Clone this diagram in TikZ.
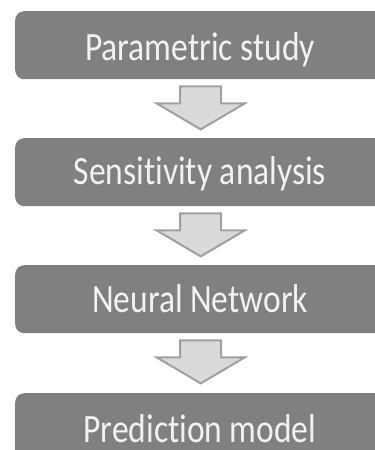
\documentclass[tikz,border=0pt]{standalone}
\usepackage{fontspec}
\usepackage{graphicx}
\setmainfont[Ligatures={NoCommon}]{Carlito}
\usetikzlibrary{calc}
\definecolor{boxgray}{RGB}{128,128,128}
\definecolor{txtwhite}{RGB}{242,242,242}
\definecolor{arrfill}{RGB}{217,217,217}
\definecolor{arredge}{RGB}{160,160,160}
\begin{document}
\begin{tikzpicture}[x=1pt,y=-1pt,
  stage/.style={fill=boxgray, rounded corners=9pt, draw=none, minimum width=371pt,
    minimum height=68pt, anchor=north west, inner sep=0pt},
  lbl/.style={text=txtwhite, font=\fontsize{33.5}{36}\selectfont, anchor=base, inner sep=0pt},
  blockarrow/.style={fill=arrfill, draw=arredge, line width=2pt, line join=miter}]
\useasboundingbox (0,0) rectangle (375,450);
\node[stage] (b1) at (15,11) {};
\node[stage] (b2) at (15,138) {};
\node[stage] (b3) at (15,265) {};
\node[stage] (b4) at (15,393) {};
\node[lbl] (t1) at (200,60) {\scalebox{1}[1.2]{Parametric study}};
\node[lbl] (t2) at (200,184) {\scalebox{1}[1.2]{Sensitivity analysis}};
\node[lbl] (t3) at (200,312) {\scalebox{1}[1.2]{Neural Network}};
\node[lbl] (t4) at (200,442) {\scalebox{1}[1.2]{Prediction model}};
\foreach \a in {b1,b2,b3}{
  \draw[blockarrow] ($(\a.south)+(-20.5,7)$) -- ($(\a.south)+(20.5,7)$)
    -- ($(\a.south)+(20.5,24)$) -- ($(\a.south)+(44,24)$)
    -- ($(\a.south)+(0,50)$) -- ($(\a.south)+(-44,24)$)
    -- ($(\a.south)+(-20.5,24)$) -- cycle;
}
\end{tikzpicture}
\end{document}
